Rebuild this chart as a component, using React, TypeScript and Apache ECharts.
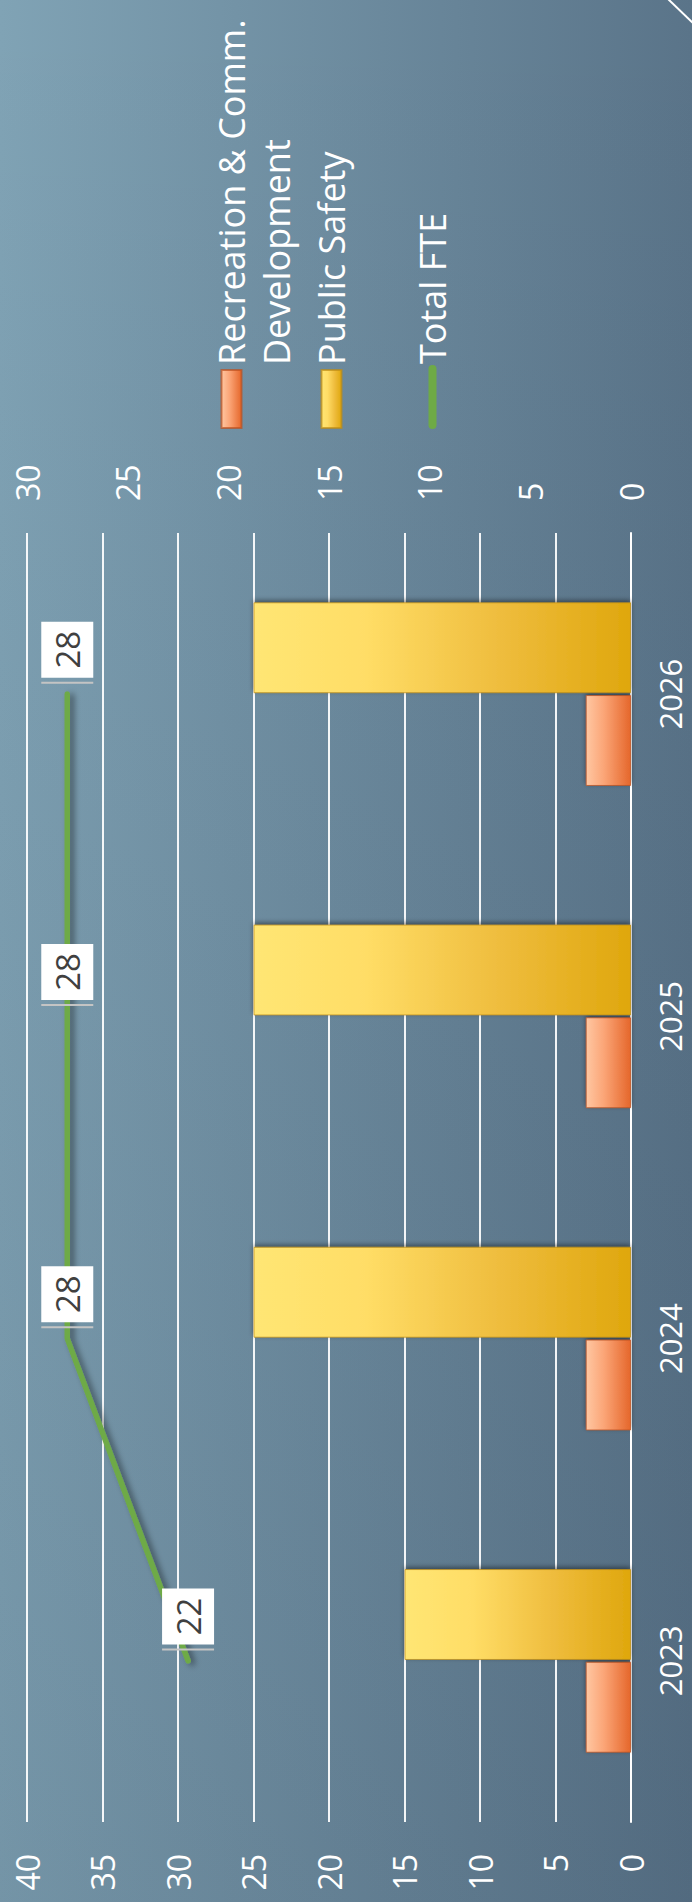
import React, { useEffect, useRef } from 'react';
import * as echarts from 'echarts';

// ---- data ----
const years = ['2023', '2024', '2025', '2026'];
const recreation = [3, 3, 3, 3];
const publicSafety = [15, 25, 25, 25];
const totalFte = [22, 28, 28, 28];
const seriesNames = ['Recreation & Comm. Development', 'Public Safety', 'Total FTE'];
const leftAxis = { min: 0, max: 40, interval: 5 };
const rightAxis = { min: 0, max: 30, interval: 5 };

const FONT = '"Open Sans", "DejaVu Sans", sans-serif';

const yellowGrad = new echarts.graphic.LinearGradient(0, 0, 0, 1, [
  { offset: 0, color: '#FFE674' },
  { offset: 0.3, color: '#FFDD66' },
  { offset: 0.65, color: '#EFBD3E' },
  { offset: 1, color: '#DFA70D' },
]);
const orangeGrad = new echarts.graphic.LinearGradient(0, 0, 0, 1, [
  { offset: 0, color: '#FFC7A2' },
  { offset: 0.4, color: '#FBA577' },
  { offset: 1, color: '#E5672B' },
]);

function buildOption(): echarts.EChartsOption {
  return {
    animation: false,
    backgroundColor: 'transparent',
    textStyle: { fontFamily: FONT },
    grid: { left: 80, right: 533, top: 27, bottom: 61, containLabel: false },
    legend: [
      {
        data: [seriesNames[0]],
        orient: 'vertical',
        left: 1473,
        top: 164,
        padding: 0,
        itemWidth: 58,
        itemHeight: 20,
        icon: 'rect',
        selectedMode: false,
        formatter: () => ' \nRecreation & Comm.\nDevelopment',
        textStyle: { color: '#FFFFFF', fontSize: 36, lineHeight: 45, fontFamily: FONT },
      },
      {
        data: [seriesNames[1]],
        orient: 'vertical',
        left: 1473,
        top: 309,
        padding: 0,
        itemWidth: 58,
        itemHeight: 20,
        icon: 'rect',
        selectedMode: false,
        textStyle: { color: '#FFFFFF', fontSize: 36, lineHeight: 45, fontFamily: FONT },
      },
      {
        data: [seriesNames[2]],
        orient: 'vertical',
        left: 1473,
        top: 410,
        padding: 0,
        itemWidth: 56,
        itemHeight: 8,
        selectedMode: false,
        lineStyle: { width: 8, cap: 'round', shadowBlur: 0, shadowColor: 'rgba(0,0,0,0)', shadowOffsetX: 0, shadowOffsetY: 0 },
        itemStyle: { opacity: 0 },
        textStyle: { color: '#FFFFFF', fontSize: 36, lineHeight: 45, fontFamily: FONT },
      },
    ],
    xAxis: {
      type: 'category',
      data: years,
      boundaryGap: true,
      axisLine: { show: true, lineStyle: { color: '#FFFFFF', width: 2 } },
      axisTick: { show: false },
      axisLabel: { color: '#FFFFFF', fontSize: 31, margin: 23, fontFamily: FONT },
      splitLine: { show: false },
    },
    yAxis: [
      {
        type: 'value',
        position: 'left',
        min: leftAxis.min,
        max: leftAxis.max,
        interval: leftAxis.interval,
        axisLine: { show: false },
        axisTick: { show: false },
        axisLabel: { color: '#FFFFFF', fontSize: 32, margin: 32, fontFamily: FONT },
        splitLine: { show: true, lineStyle: { color: 'rgba(255,255,255,0.92)', width: 2 } },
      },
      {
        type: 'value',
        position: 'right',
        min: rightAxis.min,
        max: rightAxis.max,
        interval: rightAxis.interval,
        axisLine: { show: false },
        axisTick: { show: false },
        axisLabel: { color: '#FFFFFF', fontSize: 32, margin: 32, fontFamily: FONT },
        splitLine: { show: false },
      },
    ],
    series: [
      {
        name: seriesNames[0],
        type: 'bar',
        yAxisIndex: 0,
        data: recreation,
        barGap: '2%',
        barCategoryGap: '43%',
        itemStyle: {
          color: orangeGrad,
          borderColor: 'rgba(190,80,30,0.7)',
          borderWidth: 1,
          shadowBlur: 5,
          shadowColor: 'rgba(0,0,0,0.45)',
          shadowOffsetX: 2,
          shadowOffsetY: 0,
        },
      },
      {
        name: seriesNames[1],
        type: 'bar',
        yAxisIndex: 0,
        data: publicSafety,
        barGap: '2%',
        barCategoryGap: '43%',
        itemStyle: {
          color: yellowGrad,
          borderColor: 'rgba(190,140,20,0.7)',
          borderWidth: 1,
          shadowBlur: 5,
          shadowColor: 'rgba(0,0,0,0.45)',
          shadowOffsetX: 2,
          shadowOffsetY: 0,
        },
      },
      {
        name: seriesNames[2],
        type: 'line',
        yAxisIndex: 1,
        data: totalFte,
        symbol: 'circle',
        symbolSize: 1,
        showSymbol: true,
        z: 5,
        itemStyle: { color: '#6EAA46' },
        lineStyle: {
          color: '#6EAA46',
          width: 5.5,
          cap: 'round',
          join: 'round',
          shadowBlur: 6,
          shadowColor: 'rgba(0,0,0,0.45)',
          shadowOffsetX: -2,
          shadowOffsetY: 4,
        },
        label: {
          show: true,
          position: 'right',
          distance: 10,
          formatter: (p: any) => `{bar| }{gap| }{box|${p.value}}`,
          rich: {
            bar: { width: 2, height: 52, backgroundColor: '#C4C4C4', fontSize: 2 },
            gap: { width: 4, height: 52, fontSize: 2 },
            box: {
              width: 56,
              height: 52,
              backgroundColor: '#FFFFFF',
              color: '#404040',
              fontSize: 33,
              align: 'center',
              fontFamily: FONT,
            },
          },
        },
      },
    ],
    graphic: [
      {
        type: 'line',
        silent: true,
        shape: { x1: 1903, y1: 668, x2: 1879, y2: 693 },
        style: { stroke: '#FFFFFF', lineWidth: 2 },
      },
    ],
  } as any;
}

export default function App() {
  const ref = useRef<HTMLDivElement>(null);
  useEffect(() => {
    if (!ref.current) return;
    const chart = echarts.init(ref.current, null, { renderer: 'svg' });
    chart.setOption(buildOption());
    return () => chart.dispose();
  }, []);
  return (
    <div
      style={{
        position: 'absolute',
        left: 0,
        top: 0,
        width: 692,
        height: 1902,
        overflow: 'hidden',
        background:
          'linear-gradient(to bottom, rgba(10,20,40,0) 0%, rgba(10,20,40,0.10) 100%), linear-gradient(to right, #80A3B5 0%, #5A7489 100%)',
      }}
    >
      <div
        ref={ref}
        style={{
          position: 'absolute',
          left: 0,
          top: 0,
          width: 1902,
          height: 692,
          transformOrigin: '0 0',
          transform: 'translateY(1902px) rotate(-90deg)',
        }}
      />
    </div>
  );
}
